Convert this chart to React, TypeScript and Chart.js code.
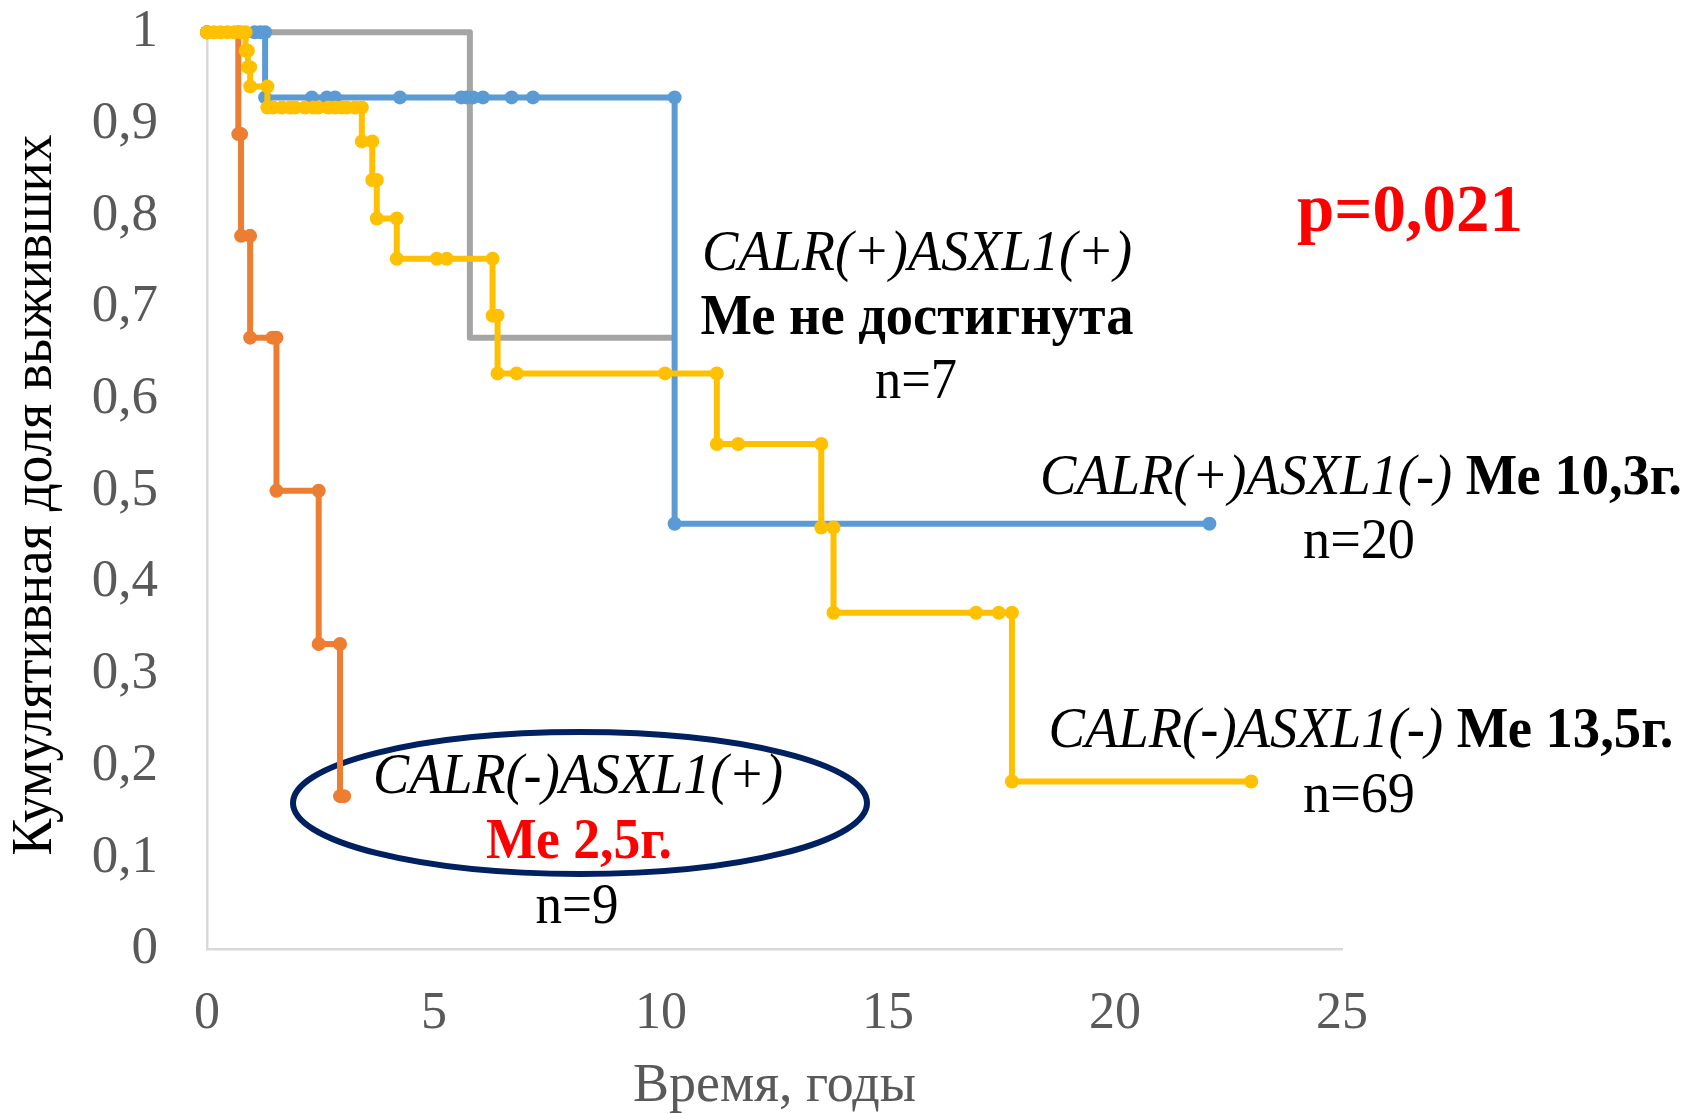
import React, { useEffect, useRef } from 'react';
import { Chart, registerables } from 'chart.js';

Chart.register(...registerables);

const W = 1688;
const H = 1114;
const FONT = '"Liberation Serif", "Times New Roman", Times, serif';

// ---- tick labels ----
const xTickLabels = ['0', '5', '10', '15', '20', '25'];
const yTickLabels = ['0', '0,1', '0,2', '0,3', '0,4', '0,5', '0,6', '0,7', '0,8', '0,9', '1'];

// ---- series: CALR(+)ASXL1(+), n=7 (gray) ----
const grayTime = [0, 5.79, 5.79, 10.25];
const graySurv = [1, 1, 0.667, 0.667];

// ---- series: CALR(+)ASXL1(-), n=20 (blue) ----
const blueTime = [0, 1.05, 1.18, 1.28, 1.28, 2.31, 2.64, 2.82, 4.25, 5.6, 5.72, 5.86, 6.08, 6.71, 7.18, 10.3, 10.3, 22.08];
const blueSurv = [1, 1, 1, 1, 0.929, 0.929, 0.929, 0.929, 0.929, 0.929, 0.929, 0.929, 0.929, 0.929, 0.929, 0.929, 0.464, 0.464];

// ---- series: CALR(-)ASXL1(+), n=9 (orange) ----
const orangeTime = [0, 0.69, 0.69, 0.75, 0.75, 0.95, 0.95, 1.44, 1.53, 1.53, 2.46, 2.46, 2.93, 2.93, 3.02];
const orangeSurv = [1, 1, 0.889, 0.889, 0.778, 0.778, 0.667, 0.667, 0.667, 0.5, 0.5, 0.333, 0.333, 0.167, 0.167];

// ---- series: CALR(-)ASXL1(-), n=69 (yellow) ----
const yellowTime = [
  0, 0.15, 0.3, 0.45, 0.6, 0.75, 0.85,
  0.85, 0.9,
  0.9, 0.95,
  0.95, 1.33,
  1.33, 1.46, 1.65, 1.83, 1.94, 2.16, 2.34, 2.45, 2.67, 2.82, 2.97, 3.08, 3.26, 3.41,
  3.41, 3.64,
  3.64, 3.74,
  3.74, 4.18,
  4.18, 5.06, 5.28, 6.29,
  6.29, 6.4,
  6.4, 6.82, 10.09, 11.23,
  11.23, 11.7, 13.53,
  13.53, 13.8,
  13.8, 16.94, 17.44, 17.73,
  17.73, 23.0,
];
const yellowSurv = [
  1, 1, 1, 1, 1, 1, 1,
  0.98, 0.98,
  0.962, 0.962,
  0.941, 0.941,
  0.918, 0.918, 0.918, 0.918, 0.918, 0.918, 0.918, 0.918, 0.918, 0.918, 0.918, 0.918, 0.918, 0.918,
  0.881, 0.881,
  0.839, 0.839,
  0.797, 0.797,
  0.753, 0.753, 0.753, 0.753,
  0.691, 0.691,
  0.628, 0.628, 0.628, 0.628,
  0.551, 0.551, 0.551,
  0.46, 0.46,
  0.367, 0.367, 0.367, 0.367,
  0.183, 0.183,
];

const toPoints = (xs: number[], ys: number[]) => xs.map((x, i) => ({ x, y: ys[i] }));

// ---- annotation layout (pixels) ----
type Seg = { t: string; s?: string; c?: string };
type TextLine = { segs: Seg[]; cx: number; base: number; w: number; size?: number };

const textLines: TextLine[] = [
  { segs: [{ t: 'CALR(+)ASXL1(+)', s: 'italic' }], cx: 917, base: 270, w: 430 },
  { segs: [{ t: 'Ме не достигнута', s: 'bold' }], cx: 917, base: 334, w: 433 },
  { segs: [{ t: 'n=7' }], cx: 916, base: 398, w: 82 },
  { segs: [{ t: 'CALR(+)ASXL1(-)', s: 'italic' }, { t: ' Ме 10,3г.', s: 'bold' }], cx: 1361, base: 494, w: 642 },
  { segs: [{ t: 'n=20' }], cx: 1359, base: 558, w: 112 },
  { segs: [{ t: 'CALR(-)ASXL1(-)', s: 'italic' }, { t: ' Ме 13,5г.', s: 'bold' }], cx: 1361, base: 747, w: 625 },
  { segs: [{ t: 'n=69' }], cx: 1359, base: 812, w: 112 },
  { segs: [{ t: 'CALR(-)ASXL1(+)', s: 'italic' }], cx: 578, base: 793, w: 410 },
  { segs: [{ t: 'Ме 2,5г.', s: 'bold', c: '#FF0000' }], cx: 579, base: 858, w: 186 },
  { segs: [{ t: 'n=9' }], cx: 577, base: 923, w: 83 },
  { segs: [{ t: 'p=0,021', s: 'bold', c: '#FF0000' }], cx: 1410, base: 231, w: 226, size: 68 },
];

const yTitle = 'Кумулятивная доля выживших';
const xTitle = 'Время, годы';

const annotationPlugin = {
  id: 'kmAnnotations',
  beforeDatasetsDraw(chart: any) {
    const ctx = chart.ctx as CanvasRenderingContext2D;
    ctx.save();
    ctx.beginPath();
    ctx.ellipse(580, 803, 287, 71, 0, 0, Math.PI * 2);
    ctx.strokeStyle = '#002060';
    ctx.lineWidth = 6;
    ctx.stroke();
    ctx.restore();
  },
  afterDraw(chart: any) {
    const ctx = chart.ctx as CanvasRenderingContext2D;
    ctx.save();
    ctx.textBaseline = 'alphabetic';
    ctx.textAlign = 'left';
    for (const line of textLines) {
      const size = line.size ?? 58;
      const fonts = line.segs.map((sg) => {
        const st = sg.s === 'italic' ? 'italic ' : sg.s === 'bold' ? 'bold ' : '';
        return `${st}${size}px ${FONT}`;
      });
      let total = 0;
      const widths = line.segs.map((sg, i) => {
        ctx.font = fonts[i];
        const m = ctx.measureText(sg.t).width;
        total += m;
        return m;
      });
      const sx = line.w / total;
      ctx.save();
      ctx.translate(line.cx - line.w / 2, line.base);
      ctx.scale(sx, 1);
      let x = 0;
      line.segs.forEach((sg, i) => {
        ctx.font = fonts[i];
        ctx.fillStyle = sg.c ?? '#000000';
        ctx.fillText(sg.t, x, 0);
        x += widths[i];
      });
      ctx.restore();
    }
    // y-axis title (rotated, condensed)
    ctx.save();
    ctx.font = `58px ${FONT}`;
    const tw = ctx.measureText(yTitle).width;
    ctx.translate(51, 495);
    ctx.rotate(-Math.PI / 2);
    ctx.scale(721 / tw, 1);
    ctx.textAlign = 'center';
    ctx.fillStyle = '#000000';
    ctx.fillText(yTitle, 0, 0);
    ctx.restore();
    ctx.restore();
  },
};

export default function App() {
  const canvasRef = useRef<HTMLCanvasElement | null>(null);

  useEffect(() => {
    const canvas = canvasRef.current;
    if (!canvas) return;
    const common = {
      showLine: true,
      borderWidth: 6,
      pointRadius: 7,
      pointHoverRadius: 7,
      pointBorderWidth: 0,
      borderJoinStyle: 'round' as const,
      borderCapStyle: 'round' as const,
      tension: 0,
      clip: false as const,
      fill: false,
    };
    const chart = new Chart(canvas, {
      type: 'line',
      data: {
        datasets: [
          { ...common, label: 'CALR(-)ASXL1(-)', data: toPoints(yellowTime, yellowSurv), borderColor: '#FFC000', backgroundColor: '#FFC000', pointBackgroundColor: '#FFC000' },
          { ...common, label: 'CALR(-)ASXL1(+)', data: toPoints(orangeTime, orangeSurv), borderColor: '#ED7D31', backgroundColor: '#ED7D31', pointBackgroundColor: '#ED7D31' },
          { ...common, label: 'CALR(+)ASXL1(-)', data: toPoints(blueTime, blueSurv), borderColor: '#5B9BD5', backgroundColor: '#5B9BD5', pointBackgroundColor: '#5B9BD5' },
          { ...common, label: 'CALR(+)ASXL1(+)', data: toPoints(grayTime, graySurv), borderColor: '#A5A5A5', backgroundColor: '#A5A5A5', pointRadius: 0, pointHoverRadius: 0 },
        ],
      },
      options: {
        responsive: false,
        animation: false,
        events: [],
        layout: { padding: { left: 0, top: 32.3, right: 346, bottom: 0 }, autoPadding: false },
        plugins: { legend: { display: false }, tooltip: { enabled: false } },
        scales: {
          x: {
            type: 'linear',
            min: 0,
            max: 25,
            afterFit: (s: any) => {
              s.height = 164.7;
              s.paddingLeft = 0;
              s.paddingRight = 0;
            },
            afterBuildTicks: (s: any) => {
              s.ticks = xTickLabels.map((_, i) => ({ value: i * 5 }));
            },
            ticks: {
              autoSkip: false,
              maxRotation: 0,
              padding: 34,
              color: '#595959',
              font: { family: FONT, size: 52 },
              callback: (_v: any, i: number) => xTickLabels[i],
            },
            grid: { display: true, drawOnChartArea: false, drawTicks: false },
            border: { display: true, color: '#D9D9D9', width: 2.5 },
            title: {
              display: true,
              text: xTitle,
              color: '#595959',
              font: { family: FONT, size: 54, lineHeight: 1 },
              padding: 0,
            },
          },
          y: {
            type: 'linear',
            min: 0,
            max: 1,
            afterFit: (s: any) => {
              s.width = 207;
              s.paddingTop = 0;
              s.paddingBottom = 0;
            },
            afterBuildTicks: (s: any) => {
              s.ticks = yTickLabels.map((_, i) => ({ value: i / 10 }));
            },
            ticks: {
              autoSkip: false,
              padding: 49,
              color: '#595959',
              font: { family: FONT, size: 53 },
              callback: (_v: any, i: number) => yTickLabels[i],
            },
            grid: { display: true, drawOnChartArea: false, drawTicks: false },
            border: { display: true, color: '#D9D9D9', width: 2.5 },
          },
        },
      },
      plugins: [annotationPlugin],
    });
    return () => chart.destroy();
  }, []);

  return (
    <div style={{ position: 'absolute', left: 0, top: 0, width: W, height: H, background: '#ffffff' }}>
      <canvas ref={canvasRef} width={W} height={H} style={{ display: 'block', width: W, height: H }} />
    </div>
  );
}
